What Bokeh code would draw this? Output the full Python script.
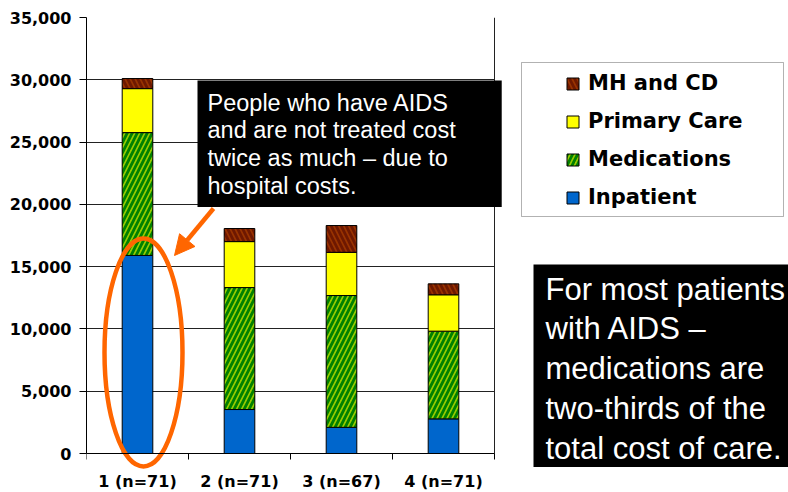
from bokeh.plotting import figure
from bokeh.models import (Range1d, FixedTicker, NumeralTickFormatter, Legend, LegendItem,
                          BoxAnnotation, Label, Arrow, NormalHead)
from bokeh.embed import file_html
from bokeh.resources import INLINE

# ---------------- data ----------------
categories = ["1 (n=71)", "2 (n=71)", "3 (n=67)", "4 (n=71)"]
inpatient = [15900, 3530, 2100, 2780]
medications = [9860, 9790, 10580, 7040]
primary_care = [3530, 3690, 3470, 2920]
mh_cd = [810, 1050, 2150, 880]
series_names = ["Inpatient", "Medications", "Primary Care", "MH and CD"]
y_ticks = [0, 5000, 10000, 15000, 20000, 25000, 30000, 35000]

note_top = "People who have AIDS\nand are not treated cost\ntwice as much \u2013 due to\nhospital costs."
note_right = "For most patients\nwith AIDS \u2013\nmedications are\ntwo-thirds of the\ntotal cost of care."

# ---------------- layout helpers (picture pixel -> data) ----------------
W, H = 788, 492
LEFT, TOP = 86, 17
PX_PER_CAT = 102.0
Y_MAX = 35000.0
AXIS_Y = 453.0               # picture y of the value 0
PX_PER_UNIT = (AXIS_Y - TOP) / Y_MAX
y_min = -(H - AXIS_Y) / PX_PER_UNIT
x_end = (W - LEFT) / PX_PER_CAT

def X(px):
    return (px - LEFT) / PX_PER_CAT

def Y(py):
    return (AXIS_Y - py) / PX_PER_UNIT

xpos = [i + 0.5 for i in range(len(categories))]
data = dict(x=xpos, Inpatient=inpatient, Medications=medications,
            **{"Primary Care": primary_care, "MH and CD": mh_cd})

p = figure(width=W, height=H, output_backend="svg", toolbar_location=None,
           x_range=Range1d(0, x_end), y_range=Range1d(y_min, Y_MAX),
           min_border_left=LEFT, min_border_top=TOP, min_border_bottom=0,
           min_border_right=0)
p.outline_line_color = None
p.background_fill_color = "white"

renderers = p.vbar_stack(series_names, x="x", width=0.3, source=data,
                         fill_color=["#0066CC", "#99CC00", "#FFFF00", "#993300"],
                         hatch_pattern=[" ", "/", " ", "\\"],
                         hatch_color=["#0066CC", "#008000", "#FFFF00", "#6E1800"],
                         hatch_scale=10, hatch_weight=2.8,
                         line_color="#000000", line_width=1)

# axes
p.xaxis.fixed_location = 0
p.xaxis.ticker = FixedTicker(ticks=xpos, minor_ticks=list(range(len(categories) + 1)))
p.xaxis.major_label_overrides = {xv: c for xv, c in zip(xpos, categories)}
p.xaxis.bounds = (0, len(categories))
p.xaxis.major_tick_out = 0
p.xaxis.major_tick_in = 0
p.xaxis.minor_tick_out = 6
p.xaxis.minor_tick_in = 0
p.xaxis.minor_tick_line_color = "black"
p.xaxis.major_label_standoff = 12
p.xaxis.major_label_text_font = "DejaVu Sans"
p.xaxis.major_label_text_font_style = "bold"
p.xaxis.major_label_text_font_size = "16px"
p.xaxis.major_label_text_color = "black"
p.xaxis.axis_line_color = "black"

p.yaxis.ticker = FixedTicker(ticks=y_ticks)
p.yaxis.bounds = (0, Y_MAX)
p.yaxis.formatter = NumeralTickFormatter(format="0,0")
p.yaxis.major_tick_out = 7
p.yaxis.major_tick_in = 0
p.yaxis.minor_tick_line_color = None
p.yaxis.major_label_standoff = 8
p.yaxis.major_label_text_font = "DejaVu Sans"
p.yaxis.major_label_text_font_style = "bold"
p.yaxis.major_label_text_font_size = "16px"
p.yaxis.major_label_text_color = "black"
p.yaxis.axis_line_color = "black"

p.ygrid.ticker = FixedTicker(ticks=y_ticks)
p.ygrid.cross_bounds = (0, len(categories))
p.ygrid.grid_line_color = "#222222"
p.xgrid.ticker = FixedTicker(ticks=[len(categories)])
p.xgrid.cross_bounds = (0, Y_MAX)
p.xgrid.grid_line_color = "#222222"

# legend (border drawn separately)
p.add_layout(BoxAnnotation(left=X(521), right=X(783), top=Y(62), bottom=Y(216),
                           fill_color="white", fill_alpha=1, line_color="black",
                           line_width=1, level="underlay"))
items = [LegendItem(label=n, renderers=[r]) for n, r in zip(series_names[::-1], renderers[::-1])]
legend = Legend(items=items, location=(565 - LEFT, H - 209),
                padding=0, margin=0, spacing=14, glyph_width=15, glyph_height=15,
                label_height=20, label_standoff=8,
                label_text_font="DejaVu Sans", label_text_font_style="bold",
                label_text_font_size="21px", label_text_color="black",
                border_line_alpha=0, background_fill_alpha=0)
p.add_layout(legend, "center")

# highlight ellipse and arrow
p.ellipse(x=[X(143)], y=[Y(352)], width=78 / PX_PER_CAT, height=228 / PX_PER_UNIT,
          fill_color=None, line_color="#FF6600", line_width=4.5)
p.add_layout(Arrow(x_start=X(213), y_start=Y(208), x_end=X(174), y_end=Y(255),
                   line_color="#FF6600", line_width=4.5,
                   end=NormalHead(size=20, fill_color="#FF6600", line_color="#FF6600")))

# text boxes
p.add_layout(Label(x=X(197), y=Y(80), text=note_top, text_font="Liberation Sans",
                   text_font_size="23.5px", text_color="white", text_align="left",
                   text_baseline="top", text_line_height=1.07,
                   background_fill_color="black",
                   padding=dict(left=10, right=46, top=9, bottom=8)))
p.add_layout(Label(x=X(533), y=Y(264), text=note_right, text_font="Liberation Sans",
                   text_font_size="31px", text_color="white", text_align="left",
                   text_baseline="top", text_line_height=1.14,
                   background_fill_color="black",
                   padding=dict(left=12, right=10, top=7, bottom=1)))

open("out.html", "w").write(file_html(p, INLINE))
